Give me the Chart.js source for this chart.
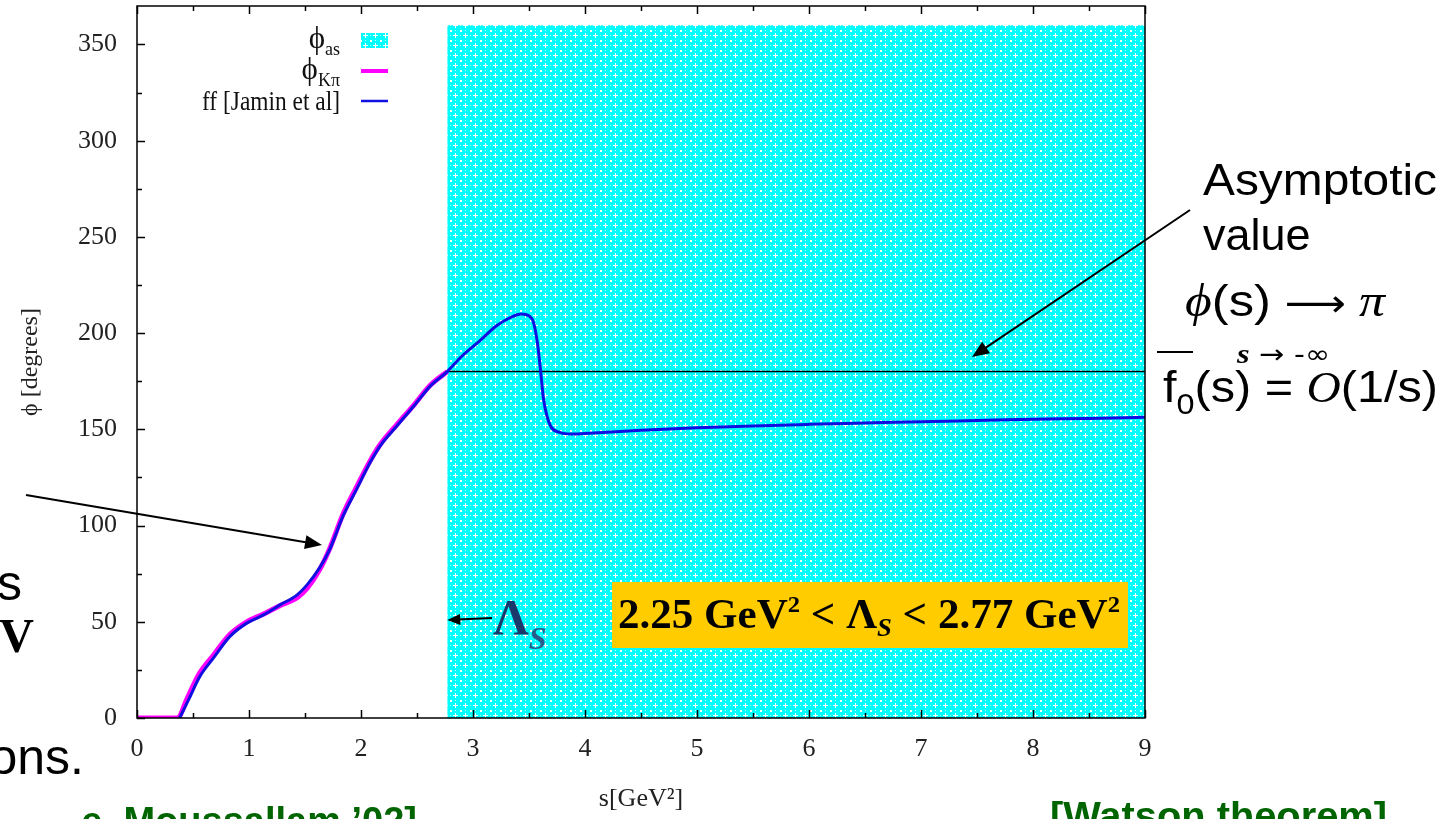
<!DOCTYPE html>
<html lang="en">
<head>
  <meta charset="UTF-8" />
  <title>K pi scalar form factor phase</title>
  <script src="https://cdn.jsdelivr.net/npm/chart.js"></script>
  <style>
    html, body { margin: 0; padding: 0; background: #fff; }
    #wrap { position: relative; width: 1448px; height: 819px; overflow: hidden; }
  </style>
</head>
<body>
  <div id="wrap"><canvas id="phaseChart" width="1448" height="819"></canvas></div>

  <script>
    // s in GeV^2, phase in degrees
    const sKpi   = [0, 0.36, 0.45, 0.55, 0.68, 0.83, 0.98, 1.13, 1.28, 1.43, 1.52, 1.63, 1.72, 1.84, 1.96, 2.08, 2.17, 2.32, 2.47, 2.62, 2.77];
    const phiKpi = [0, 0, 10.5, 22.5, 32.5, 43.5, 50, 54, 58.5, 62.5, 67.5, 77, 88, 106, 120, 133.5, 142, 152.5, 162.5, 173, 180];

    const sFF   = [0.38, 0.46, 0.56, 0.68, 0.83, 0.98, 1.13, 1.28, 1.43, 1.52, 1.63, 1.72, 1.84, 1.96, 2.08, 2.17, 2.32, 2.47, 2.62, 2.77,
                   2.9, 3.06, 3.21, 3.33, 3.43, 3.5, 3.54, 3.575, 3.605, 3.63, 3.66, 3.7, 3.78, 3.88, 4.04, 4.5, 5, 5.5, 6, 6.5, 7, 7.5, 8, 8.5, 9];
    const phiFF = [0, 9.4, 21.5, 31, 42.4, 49.3, 53.6, 58.9, 64, 69.3, 78, 87.5, 105, 118.8, 132.6, 141.3, 151.7, 162, 172.6, 180,
                   188, 196, 203.8, 208, 210, 209, 205.6, 195, 179.5, 165.6, 157, 151, 148.3, 147.6, 148, 149.5, 150.8, 151.8, 152.6, 153.3, 154, 154.6, 155.2, 155.7, 156.3];

    const lambdaS = 2.77;
    const sAsym = [lambdaS, 9];
    const phiAsym = [180, 180];
    const shadeTop = [360, 360];

    const xTicks = [0, 0.5, 1, 1.5, 2, 2.5, 3, 3.5, 4, 4.5, 5, 5.5, 6, 6.5, 7, 7.5, 8, 8.5, 9];
    const yTicks = [0, 25, 50, 75, 100, 125, 150, 175, 200, 225, 250, 275, 300, 325, 350];

    const legendRows = [
      { main: 'ϕ', sub: 'as' },
      { main: 'ϕ', sub: 'Kπ' },
      { main: 'ff [Jamin et al]', sub: '' }
    ];

    const SERIF = '"Liberation Serif", "DejaVu Serif", serif';
    const SANS = '"Liberation Sans", Arial, sans-serif';

    // cyan dotted fill like the gnuplot pattern
    function makePattern() {
      const c = document.createElement('canvas');
      c.width = 10; c.height = 10;
      const g = c.getContext('2d');
      g.fillStyle = '#00ffff';
      g.fillRect(0, 0, 10, 10);
      g.fillStyle = '#ffffff';
      // plus sign in the middle of the tile
      g.fillRect(3, 5, 5, 1);
      g.fillRect(5, 3, 1, 5);
      // small square on the corners
      g.fillRect(0, 0, 2, 2);
      g.globalAlpha = 0.7;
      g.fillRect(0, 5, 1, 1);
      g.fillRect(5, 0, 1, 1);
      return g.createPattern(c, 'repeat');
    }
    const cyanPattern = makePattern();

    function toPoints(xs, ys) {
      return xs.map((v, i) => ({ x: v, y: ys[i] }));
    }

    // draw text made of several pieces (sub/superscripts), optionally squeezed to a width
    function drawRich(ctx, parts, x, y, align, fitWidth) {
      let w = 0;
      parts.forEach(p => { ctx.font = p.font; p.w = ctx.measureText(p.t).width; w += p.w; });
      const sx = fitWidth ? fitWidth / w : 1;
      const x0 = align === 'right' ? x - w * sx : x;
      ctx.save();
      ctx.translate(x0, y);
      ctx.scale(sx, 1);
      ctx.textAlign = 'left';
      ctx.textBaseline = 'alphabetic';
      let cx = 0;
      parts.forEach(p => {
        ctx.font = p.font;
        ctx.fillStyle = p.color || '#000';
        ctx.fillText(p.t, cx, p.dy || 0);
        cx += p.w;
      });
      ctx.restore();
    }

    function arrow(ctx, x1, y1, x2, y2, head, width) {
      const ang = Math.atan2(y2 - y1, x2 - x1);
      ctx.save();
      ctx.strokeStyle = '#000';
      ctx.fillStyle = '#000';
      ctx.lineWidth = 2;
      ctx.beginPath();
      ctx.moveTo(x1, y1);
      ctx.lineTo(x2 - Math.cos(ang) * head * 0.8, y2 - Math.sin(ang) * head * 0.8);
      ctx.stroke();
      ctx.translate(x2, y2);
      ctx.rotate(ang);
      ctx.beginPath();
      ctx.moveTo(0, 0);
      ctx.lineTo(-head, -width / 2);
      ctx.lineTo(-head, width / 2);
      ctx.closePath();
      ctx.fill();
      ctx.restore();
    }

    const overlay = {
      id: 'overlay',
      afterDatasetsDraw(chart) {
        const { ctx, chartArea: a, scales: { x, y } } = chart;
        ctx.save();

        // frame + inward ticks
        ctx.strokeStyle = '#000';
        ctx.lineWidth = 1.5;
        ctx.strokeRect(a.left, a.top, a.right - a.left, a.bottom - a.top);
        ctx.beginPath();
        xTicks.forEach(v => {
          const px = Math.round(x.getPixelForValue(v)) + 0.5;
          const len = Number.isInteger(v) ? 8 : 5;
          ctx.moveTo(px, a.bottom); ctx.lineTo(px, a.bottom - len);
          ctx.moveTo(px, a.top); ctx.lineTo(px, a.top + len);
        });
        yTicks.forEach(v => {
          const py = Math.round(y.getPixelForValue(v)) + 0.5;
          const len = v % 50 === 0 ? 8 : 5;
          ctx.moveTo(a.left, py); ctx.lineTo(a.left + len, py);
        });
        ctx.stroke();

        // key, top left inside the frame
        const keyRight = 340, sampleX = 361, sampleW = 27;
        const rowY = [40, 71, 101];
        legendRows.forEach((r, i) => {
          const parts = [];
          if (r.sub) {
            parts.push({ t: r.main, font: '31px ' + SERIF, color: '#111' });
            parts.push({ t: r.sub, font: '18px ' + SERIF, dy: 7, color: '#111' });
            drawRich(ctx, parts, keyRight, rowY[i] + 8, 'right', null);
          } else {
            parts.push({ t: r.main, font: '27px ' + SERIF, color: '#111' });
            drawRich(ctx, parts, keyRight, rowY[i] + 9, 'right', 138);
          }
        });
        ctx.fillStyle = cyanPattern;
        ctx.fillRect(sampleX, 33, sampleW, 15);
        ctx.lineWidth = 4; ctx.strokeStyle = '#ff00ff';
        ctx.beginPath(); ctx.moveTo(sampleX, rowY[1]); ctx.lineTo(sampleX + sampleW, rowY[1]); ctx.stroke();
        ctx.lineWidth = 2.5; ctx.strokeStyle = '#1010e0';
        ctx.beginPath(); ctx.moveTo(sampleX, rowY[2]); ctx.lineTo(sampleX + sampleW, rowY[2]); ctx.stroke();

        // Lambda_S marker
        const lamX = x.getPixelForValue(lambdaS);
        arrow(ctx, 492, 618, lamX, 620, 13, 11);
        drawRich(ctx, [
          { t: 'Λ', font: 'bold 50px ' + SERIF, color: '#1b3a6b' },
          { t: 'S', font: 'italic bold 32px ' + SERIF, color: '#2b5c8a', dy: 15 }
        ], 493, 634, 'left', null);

        // yellow box with the range of Lambda_S
        ctx.fillStyle = '#ffcc00';
        ctx.fillRect(612, 582, 516, 66);
        drawRich(ctx, [
          { t: '2.25 GeV', font: 'bold 42px ' + SERIF },
          { t: '2', font: 'bold 24px ' + SERIF, dy: -16 },
          { t: ' < Λ', font: 'bold 42px ' + SERIF },
          { t: 'S', font: 'italic bold 26px ' + SERIF, dy: 8 },
          { t: ' < 2.77 GeV', font: 'bold 42px ' + SERIF },
          { t: '2', font: 'bold 24px ' + SERIF, dy: -16 }
        ], 618, 628, 'left', 502);

        // arrows from the slide text
        arrow(ctx, 26, 495, 322, 545, 17, 14);
        arrow(ctx, 1190, 210, 972, 357, 17, 14);

        // right hand annotation
        drawRich(ctx, [{ t: 'Asymptotic', font: '45px ' + SANS }], 1203, 195, 'left', 234);
        drawRich(ctx, [{ t: 'value', font: '45px ' + SANS }], 1203, 250, 'left', null);
        drawRich(ctx, [
          { t: 'ϕ', font: 'italic 46px ' + SERIF },
          { t: '(s) ', font: '45px ' + SANS },
          { t: '⟶', font: '38px "DejaVu Sans"' },
          { t: ' π', font: 'italic 46px ' + SERIF }
        ], 1185, 316, 'left', 200);
        drawRich(ctx, [
          { t: 's', font: 'italic bold 28px ' + SERIF },
          { t: ' → -∞', font: '26px "DejaVu Sans"' }
        ], 1237, 363, 'left', 93);
        ctx.strokeStyle = '#000'; ctx.lineWidth = 2;
        ctx.beginPath(); ctx.moveTo(1157, 352); ctx.lineTo(1193, 352); ctx.stroke();
        drawRich(ctx, [
          { t: 'f', font: '45px ' + SANS },
          { t: '0', font: '30px ' + SANS, dy: 12 },
          { t: '(s) = ', font: '45px ' + SANS },
          { t: 'O', font: 'italic 44px ' + SERIF },
          { t: '(1/s)', font: '45px ' + SANS }
        ], 1163, 402, 'left', 275);

        // cut-off slide text on the left and bottom
        drawRich(ctx, [{ t: 's', font: '50px ' + SANS }], 22, 600, 'right', null);
        drawRich(ctx, [{ t: 'GeV', font: 'bold 48px ' + SERIF }], 34, 652, 'right', null);
        drawRich(ctx, [{ t: 'ons.', font: '50px ' + SANS }], 84, 774, 'right', null);
        drawRich(ctx, [{ t: 'e, Moussallam \u201902]', font: 'bold 38px ' + SANS, color: '#006400' }], 417, 834, 'right', null);
        drawRich(ctx, [{ t: '[Watson theorem]', font: 'bold 38px ' + SANS, color: '#006400' }], 1050, 829, 'left', 337);

        ctx.restore();
      }
    };

    const ctx = document.getElementById('phaseChart').getContext('2d');
    new Chart(ctx, {
      type: 'line',
      data: {
        datasets: [
          {
            label: 'ff [Jamin et al]',
            data: toPoints(sFF, phiFF),
            borderColor: '#1010e0',
            borderWidth: 3,
            pointRadius: 0,
            cubicInterpolationMode: 'monotone',
            fill: false,
            order: 1
          },
          {
            label: 'phi_Kpi',
            data: toPoints(sKpi, phiKpi),
            borderColor: '#ff00ff',
            borderWidth: 5,
            pointRadius: 0,
            cubicInterpolationMode: 'monotone',
            fill: false,
            order: 2
          },
          {
            label: 'pi',
            data: toPoints(sAsym, phiAsym),
            borderColor: '#000',
            borderWidth: 1.5,
            pointRadius: 0,
            fill: false,
            order: 3
          },
          {
            label: 'phi_as',
            data: toPoints(sAsym, shadeTop),
            borderWidth: 0,
            borderColor: 'rgba(0,0,0,0)',
            backgroundColor: cyanPattern,
            pointRadius: 0,
            fill: 'origin',
            order: 4
          }
        ]
      },
      options: {
        responsive: false,
        animation: false,
        layout: { padding: { left: 0, top: 6, right: 303, bottom: 0 } },
        plugins: {
          legend: { display: false },
          tooltip: { enabled: false }
        },
        scales: {
          x: {
            type: 'linear',
            min: 0,
            max: 9,
            afterBuildTicks: s => { s.ticks = xTicks.map(v => ({ value: v })); },
            afterFit: s => { s.height = 101; s.paddingLeft = 0; s.paddingRight = 0; },
            grid: { display: false, tickLength: 0 },
            border: { display: false },
            ticks: {
              autoSkip: false,
              maxRotation: 0,
              padding: 16,
              color: '#222',
              font: { family: SERIF, size: 26 },
              callback: v => Number.isInteger(v) ? String(v) : ''
            },
            title: {
              display: true,
              text: 's[GeV²]',
              color: '#222',
              font: { family: SERIF, size: 26 },
              padding: { top: 0, bottom: 4 }
            }
          },
          y: {
            type: 'linear',
            min: 0,
            max: 370,
            afterBuildTicks: s => { s.ticks = yTicks.map(v => ({ value: v })); },
            afterFit: s => { s.width = 137; s.paddingTop = 0; s.paddingBottom = 0; },
            grid: { display: false, tickLength: 0 },
            border: { display: false },
            ticks: {
              autoSkip: false,
              padding: 20,
              color: '#222',
              font: { family: SERIF, size: 26 },
              callback: v => v % 50 === 0 ? String(v) : ''
            },
            title: {
              display: true,
              text: 'ϕ [degrees]',
              color: '#222',
              font: { family: SERIF, size: 24 },
              padding: { top: 16, bottom: 0 }
            }
          }
        }
      },
      plugins: [overlay]
    });
  </script>
</body>
</html>
